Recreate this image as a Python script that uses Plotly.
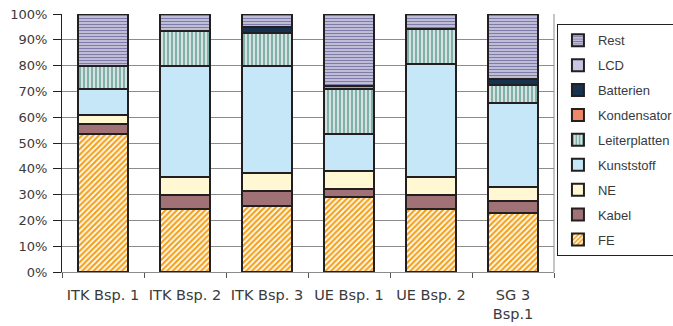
import plotly.graph_objects as go

# Material composition (share in %) of each device sample
categories = ["ITK Bsp. 1", "ITK Bsp. 2", "ITK Bsp. 3", "UE Bsp. 1", "UE Bsp. 2", "SG 3<br>Bsp.1"]

fe = [53.5, 24.5, 25.5, 29.0, 24.5, 23.0]
kabel = [4.0, 5.5, 6.0, 3.0, 5.5, 4.5]
ne = [3.5, 7.0, 7.0, 7.0, 7.0, 5.5]
kunststoff = [10.0, 43.0, 41.5, 14.5, 43.5, 32.5]
leiterplatten = [9.0, 13.5, 12.5, 17.5, 13.5, 7.0]
kondensator = [0.0, 0.0, 0.0, 1.0, 0.0, 0.0]
batterien = [0.0, 0.0, 2.5, 0.0, 0.0, 2.5]
lcd = [0.0, 0.0, 0.0, 0.0, 0.0, 0.0]
rest = [20.0, 6.5, 5.0, 28.0, 6.0, 25.0]

y_ticks = [0, 10, 20, 30, 40, 50, 60, 70, 80, 90, 100]
y_tick_text = ["0%", "10%", "20%", "30%", "40%", "50%", "60%", "70%", "80%", "90%", "100%"]

OUTLINE = "#231f20"
FONT = "DejaVu Sans, Arial, sans-serif"
LEGEND_FONT = "Liberation Sans, Arial, sans-serif"

series = [
    ("FE", fe, dict(color="#ffffff", pattern=dict(shape="/", fgcolor="#f4a21c", bgcolor="#ffffff",
                                                  size=4, solidity=0.55, fillmode="replace"))),
    ("Kabel", kabel, dict(color="#a07276")),
    ("NE", ne, dict(color="#fff8d2")),
    ("Kunststoff", kunststoff, dict(color="#c6e7f8")),
    ("Leiterplatten", leiterplatten, dict(color="#c2d6d3", pattern=dict(shape="|", fgcolor="#5c9a91",
                                                                       bgcolor="#d4e3e0", size=4,
                                                                       solidity=0.35, fillmode="replace"))),
    ("Kondensator", kondensator, dict(color="#ee8868")),
    ("Batterien", batterien, dict(color="#16324f")),
    ("LCD", lcd, dict(color="#c8c4e4")),
    ("Rest", rest, dict(color="#e9e8f2", pattern=dict(shape="-", fgcolor="#7d7bab", bgcolor="#eceaf4",
                                                     size=3, solidity=0.6, fillmode="replace"))),
]

fig = go.Figure()
n = len(series)
for i, (name, values, marker) in enumerate(series):
    marker = dict(marker)
    marker["line"] = dict(color=OUTLINE, width=2)
    fig.add_trace(go.Bar(
        x=categories, y=values, name=name, marker=marker,
        legendgroup=name, legendrank=n - i, hoverinfo="skip",
    ))

fig.update_layout(
    width=673, height=326,
    margin=dict(l=62, r=119, t=14, b=54, autoexpand=False),
    barmode="stack",
    bargap=0.4,
    plot_bgcolor="#ffffff",
    paper_bgcolor="#ffffff",
    font=dict(family=FONT, size=13, color="#3a3a3a"),
    legend=dict(
        x=1.006, xanchor="left", y=0.96, yanchor="top",
        traceorder="grouped",
        tracegroupgap=5,
        bordercolor="#231f20", borderwidth=1,
        font=dict(family=LEGEND_FONT, size=13, color="#3a3a3a"),
        itemwidth=30,
    ),
    shapes=[dict(type="line", xref="paper", yref="paper", x0=1, x1=1, y0=0, y1=1,
                 line=dict(color="#8c8c8c", width=1))],
)

fig.update_yaxes(
    range=[0, 100], tickvals=y_ticks, ticktext=y_tick_text,
    showgrid=True, gridcolor="#8c8c8c", gridwidth=1,
    showline=True, linecolor="#231f20", linewidth=1,
    ticks="outside", ticklen=8, tickcolor="#231f20",
    ticklabelstandoff=3,
    tickfont=dict(family=FONT, size=13, color="#3a3a3a"),
    zeroline=False,
)
fig.update_xaxes(
    showline=True, linecolor="#8c8c8c", linewidth=1,
    ticks="outside", tickson="boundaries", ticklen=5, tickcolor="#555555",
    ticklabelstandoff=10,
    tickfont=dict(family=FONT, size=14.5, color="#3a3a3a"),
    showgrid=False,
)

fig.write_html("out.html")
